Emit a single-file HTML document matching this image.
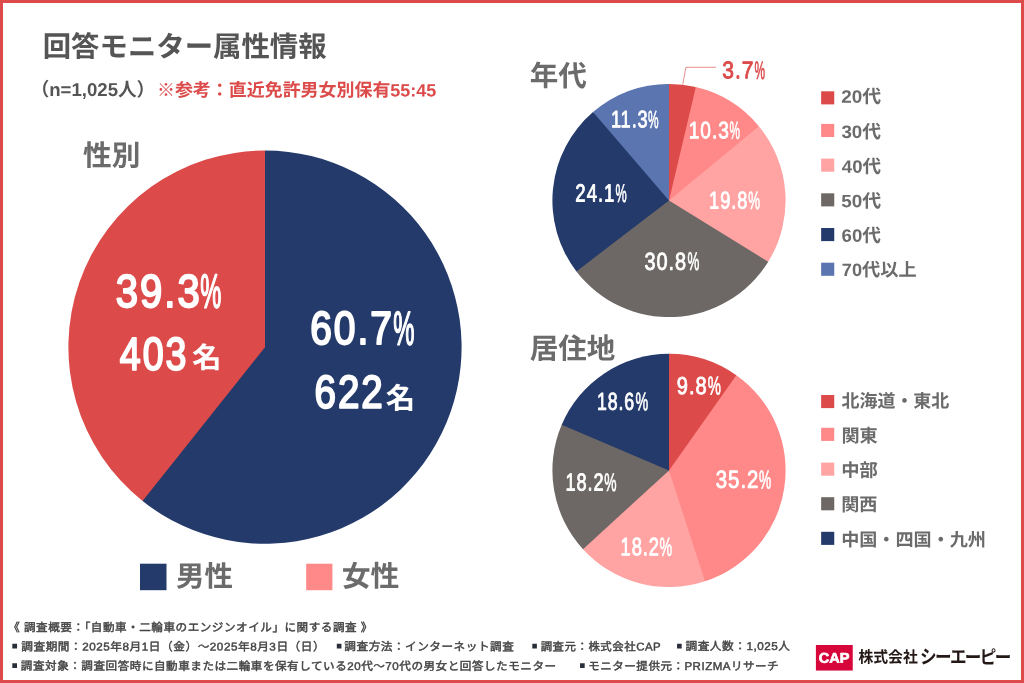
<!DOCTYPE html>
<html lang="ja">
<head>
<meta charset="utf-8">
<title>回答モニター属性情報</title>
<style>
html,body{margin:0;padding:0;background:#fff;}
body{width:1024px;height:683px;overflow:hidden;font-family:"Liberation Sans","Noto Sans CJK JP",sans-serif;}
svg{display:block;}
text{white-space:pre;}
</style>
</head>
<body>
<svg width="1024" height="683" viewBox="0 0 1024 683">
<rect x="0" y="0" width="1024" height="683" fill="#DC4A4A"/>
<rect x="3" y="3" width="1018" height="677" fill="#fff"/>
<path d="M265.00 347.15L265.00 150.55A196.60 196.60 0 1 1 142.56 500.97L143.12 500.26A195.70 195.70 0 0 1 265.00 151.45Z" fill="#233A6B"/>
<path d="M265.00 347.15L142.56 500.97A196.60 196.60 0 0 1 265.00 150.55Z" fill="#DC4A4A"/>
<path d="M669.00 200.50L669.00 83.90A116.60 116.60 0 0 1 695.86 87.04L695.66 87.91A115.70 115.70 0 1 1 669.00 84.80Z" fill="#DC4A4A"/>
<path d="M669.00 200.50L695.86 87.04A116.60 116.60 0 0 1 758.84 126.18L758.15 126.75A115.70 115.70 0 1 1 669.00 84.80Z" fill="#FF8888"/>
<path d="M669.00 200.50L758.84 126.18A116.60 116.60 0 0 1 768.23 261.74L767.46 261.26A115.70 115.70 0 1 1 669.00 84.80Z" fill="#FFA3A3"/>
<path d="M669.00 200.50L768.23 261.74A116.60 116.60 0 0 1 576.42 271.38L577.14 270.84A115.70 115.70 0 0 1 669.00 84.80Z" fill="#6D6865"/>
<path d="M669.00 200.50L576.42 271.38A116.60 116.60 0 0 1 593.00 112.08L593.58 112.76A115.70 115.70 0 0 1 669.00 84.80Z" fill="#233A6B"/>
<path d="M669.00 200.50L593.00 112.08A116.60 116.60 0 0 1 669.00 83.90Z" fill="#5A75B0"/>
<path d="M669.00 470.40L669.00 353.80A116.60 116.60 0 0 1 736.34 375.21L735.83 375.95A115.70 115.70 0 1 1 669.00 354.70Z" fill="#DC4A4A"/>
<path d="M669.00 470.40L736.34 375.21A116.60 116.60 0 0 1 705.03 581.29L704.75 580.44A115.70 115.70 0 1 1 669.00 354.70Z" fill="#FF8888"/>
<path d="M669.00 470.40L705.03 581.29A116.60 116.60 0 0 1 583.01 549.14L583.67 548.54A115.70 115.70 0 0 1 669.00 354.70Z" fill="#FFA3A3"/>
<path d="M669.00 470.40L583.01 549.14A116.60 116.60 0 0 1 561.70 424.77L562.53 425.12A115.70 115.70 0 0 1 669.00 354.70Z" fill="#6D6865"/>
<path d="M669.00 470.40L561.70 424.77A116.60 116.60 0 0 1 669.00 353.80Z" fill="#233A6B"/>
<path d="M682.8 84.4L685.9 67.3H716" fill="none" stroke="#E57272" stroke-width="0.8"/>
<rect x="140" y="563.7" width="26.5" height="26.5" fill="#233A6B"/>
<rect x="306.2" y="563.7" width="26.2" height="26.5" fill="#FF8888"/>
<rect x="821.15" y="91.30" width="13.1" height="13.1" fill="#DC4A4A"/>
<rect x="821.15" y="123.90" width="13.1" height="13.1" fill="#FF8888"/>
<rect x="821.15" y="158.60" width="13.1" height="13.1" fill="#FFA3A3"/>
<rect x="821.15" y="193.30" width="13.1" height="13.1" fill="#6D6865"/>
<rect x="821.15" y="228.00" width="13.1" height="13.1" fill="#233A6B"/>
<rect x="821.15" y="262.70" width="13.1" height="13.1" fill="#5A75B0"/>
<rect x="821.15" y="395.00" width="13.1" height="13.1" fill="#DC4A4A"/>
<rect x="821.15" y="427.80" width="13.1" height="13.1" fill="#FF8888"/>
<rect x="821.15" y="462.60" width="13.1" height="13.1" fill="#FFA3A3"/>
<rect x="821.15" y="497.20" width="13.1" height="13.1" fill="#6D6865"/>
<rect x="821.15" y="531.80" width="13.1" height="13.1" fill="#233A6B"/>
<rect x="815.9" y="645.0" width="36.85" height="25.55" fill="#D7063A"/>
<text transform="translate(42.71 56.38) rotate(0.03)" font-family="'Liberation Sans', 'Noto Sans CJK JP', sans-serif" font-weight="bold" font-size="28.40" fill="#555555" xml:space="preserve">回答モニター属性情報</text>
<text transform="translate(30.67 95.87) rotate(0.03)" font-family="'Liberation Sans', 'Noto Sans CJK JP', sans-serif" font-weight="bold" font-size="18.60" fill="#555555" xml:space="preserve">（n=1,025人）</text>
<text transform="translate(156.96 96.26) rotate(0.03)" font-family="'Liberation Sans', 'Noto Sans CJK JP', sans-serif" font-weight="bold" font-size="17.97" fill="#DC4A4A" xml:space="preserve">※参考：直近免許男女別保有55:45</text>
<text transform="translate(83.10 165.43) rotate(0.03)" font-family="'Liberation Sans', 'Noto Sans CJK JP', sans-serif" font-weight="bold" font-size="28.68" fill="#6B6B6B" xml:space="preserve">性別</text>
<text transform="translate(529.71 85.87) rotate(0.03)" font-family="'Liberation Sans', 'Noto Sans CJK JP', sans-serif" font-weight="bold" font-size="28.56" fill="#6B6B6B" xml:space="preserve">年代</text>
<text transform="translate(529.65 358.51) rotate(0.03)" font-family="'Liberation Sans', 'Noto Sans CJK JP', sans-serif" font-weight="bold" font-size="28.50" fill="#6B6B6B" xml:space="preserve">居住地</text>
<text transform="translate(115.87 306.92) scale(0.8677 1) rotate(0.03)" font-family="'Liberation Sans', sans-serif" font-weight="normal" font-size="46.11" letter-spacing="2.305" fill="#fff" stroke="#fff" stroke-linejoin="round" stroke-width="2.029" xml:space="preserve">39.3</text>
<text transform="translate(200.26 307.86) scale(0.4909 1) rotate(0.03)" font-family="'Liberation Sans', sans-serif" font-weight="normal" font-size="48.31" fill="#fff" stroke="#fff" stroke-linejoin="round" stroke-width="1.701" xml:space="preserve">%</text>
<text transform="translate(119.85 369.75) scale(0.8167 1) rotate(0.03)" font-family="'Liberation Sans', sans-serif" font-weight="normal" font-size="46.08" letter-spacing="2.304" fill="#fff" stroke="#fff" stroke-linejoin="round" stroke-width="2.027" xml:space="preserve">403</text>
<text transform="translate(192.11 367.77) scale(1.0301 1) rotate(0.03)" font-family="'Liberation Sans', 'Noto Sans CJK JP', sans-serif" font-weight="bold" font-size="28.70" fill="#fff" xml:space="preserve">名</text>
<text transform="translate(310.16 343.88) scale(0.8405 1) rotate(0.03)" font-family="'Liberation Sans', sans-serif" font-weight="normal" font-size="46.42" letter-spacing="2.321" fill="#fff" stroke="#fff" stroke-linejoin="round" stroke-width="2.042" xml:space="preserve">60.7</text>
<text transform="translate(393.25 344.70) scale(0.4981 1) rotate(0.03)" font-family="'Liberation Sans', sans-serif" font-weight="normal" font-size="47.92" fill="#fff" stroke="#fff" stroke-linejoin="round" stroke-width="1.687" xml:space="preserve">%</text>
<text transform="translate(314.49 407.68) scale(0.8370 1) rotate(0.03)" font-family="'Liberation Sans', sans-serif" font-weight="normal" font-size="46.17" letter-spacing="2.309" fill="#fff" stroke="#fff" stroke-linejoin="round" stroke-width="2.032" xml:space="preserve">622</text>
<text transform="translate(385.74 408.53) scale(1.0190 1) rotate(0.03)" font-family="'Liberation Sans', 'Noto Sans CJK JP', sans-serif" font-weight="bold" font-size="28.91" fill="#fff" xml:space="preserve">名</text>
<text transform="translate(722.15 78.35) scale(0.8765 1) rotate(0.03)" font-family="'Liberation Sans', sans-serif" font-weight="normal" font-size="24.00" letter-spacing="1.200" fill="#DC4A4A" stroke="#DC4A4A" stroke-linejoin="round" stroke-width="0.864" xml:space="preserve">3.7</text>
<text transform="translate(754.49 79.00) scale(0.4681 1) rotate(0.03)" font-family="'Liberation Sans', sans-serif" font-weight="normal" font-size="25.30" fill="#DC4A4A" stroke="#DC4A4A" stroke-linejoin="round" stroke-width="0.729" xml:space="preserve">%</text>
<text transform="translate(610.93 127.33) scale(0.7689 1) rotate(0.03)" font-family="'Liberation Sans', sans-serif" font-weight="normal" font-size="23.67" letter-spacing="1.184" fill="#fff" stroke="#fff" stroke-linejoin="round" stroke-width="0.852" xml:space="preserve">11.3</text>
<text transform="translate(647.98 127.90) scale(0.4800 1) rotate(0.03)" font-family="'Liberation Sans', sans-serif" font-weight="normal" font-size="24.78" fill="#fff" stroke="#fff" stroke-linejoin="round" stroke-width="0.714" xml:space="preserve">%</text>
<text transform="translate(688.77 138.33) scale(0.8099 1) rotate(0.03)" font-family="'Liberation Sans', sans-serif" font-weight="normal" font-size="23.63" letter-spacing="1.181" fill="#fff" stroke="#fff" stroke-linejoin="round" stroke-width="0.851" xml:space="preserve">10.3</text>
<text transform="translate(729.49 138.75) scale(0.4767 1) rotate(0.03)" font-family="'Liberation Sans', sans-serif" font-weight="normal" font-size="24.76" fill="#fff" stroke="#fff" stroke-linejoin="round" stroke-width="0.713" xml:space="preserve">%</text>
<text transform="translate(575.35 201.46) scale(0.7504 1) rotate(0.03)" font-family="'Liberation Sans', sans-serif" font-weight="normal" font-size="24.82" letter-spacing="1.241" fill="#fff" stroke="#fff" stroke-linejoin="round" stroke-width="0.894" xml:space="preserve">24.1</text>
<text transform="translate(615.57 201.94) scale(0.4908 1) rotate(0.03)" font-family="'Liberation Sans', sans-serif" font-weight="normal" font-size="25.68" fill="#fff" stroke="#fff" stroke-linejoin="round" stroke-width="0.740" xml:space="preserve">%</text>
<text transform="translate(709.11 208.49) scale(0.7521 1) rotate(0.03)" font-family="'Liberation Sans', sans-serif" font-weight="normal" font-size="24.24" letter-spacing="1.212" fill="#fff" stroke="#fff" stroke-linejoin="round" stroke-width="0.873" xml:space="preserve">19.8</text>
<text transform="translate(748.32 208.91) scale(0.5277 1) rotate(0.03)" font-family="'Liberation Sans', sans-serif" font-weight="normal" font-size="25.17" fill="#fff" stroke="#fff" stroke-linejoin="round" stroke-width="0.725" xml:space="preserve">%</text>
<text transform="translate(644.38 269.68) scale(0.8156 1) rotate(0.03)" font-family="'Liberation Sans', sans-serif" font-weight="normal" font-size="24.42" letter-spacing="1.221" fill="#fff" stroke="#fff" stroke-linejoin="round" stroke-width="0.879" xml:space="preserve">30.8</text>
<text transform="translate(687.49 270.07) scale(0.5213 1) rotate(0.03)" font-family="'Liberation Sans', sans-serif" font-weight="normal" font-size="25.64" fill="#fff" stroke="#fff" stroke-linejoin="round" stroke-width="0.738" xml:space="preserve">%</text>
<text transform="translate(676.70 393.88) scale(0.8196 1) rotate(0.03)" font-family="'Liberation Sans', sans-serif" font-weight="normal" font-size="24.54" letter-spacing="1.227" fill="#fff" stroke="#fff" stroke-linejoin="round" stroke-width="0.883" xml:space="preserve">9.8</text>
<text transform="translate(707.69 394.49) scale(0.5715 1) rotate(0.03)" font-family="'Liberation Sans', sans-serif" font-weight="normal" font-size="25.89" fill="#fff" stroke="#fff" stroke-linejoin="round" stroke-width="0.746" xml:space="preserve">%</text>
<text transform="translate(596.99 409.72) scale(0.7259 1) rotate(0.03)" font-family="'Liberation Sans', sans-serif" font-weight="normal" font-size="24.42" letter-spacing="1.221" fill="#fff" stroke="#fff" stroke-linejoin="round" stroke-width="0.879" xml:space="preserve">18.6</text>
<text transform="translate(635.57 410.33) scale(0.5581 1) rotate(0.03)" font-family="'Liberation Sans', sans-serif" font-weight="normal" font-size="25.57" fill="#fff" stroke="#fff" stroke-linejoin="round" stroke-width="0.736" xml:space="preserve">%</text>
<text transform="translate(565.50 490.46) scale(0.7397 1) rotate(0.03)" font-family="'Liberation Sans', sans-serif" font-weight="normal" font-size="24.59" letter-spacing="1.230" fill="#fff" stroke="#fff" stroke-linejoin="round" stroke-width="0.885" xml:space="preserve">18.2</text>
<text transform="translate(604.29 490.94) scale(0.5410 1) rotate(0.03)" font-family="'Liberation Sans', sans-serif" font-weight="normal" font-size="25.59" fill="#fff" stroke="#fff" stroke-linejoin="round" stroke-width="0.737" xml:space="preserve">%</text>
<text transform="translate(715.73 487.84) scale(0.8270 1) rotate(0.03)" font-family="'Liberation Sans', sans-serif" font-weight="normal" font-size="24.62" letter-spacing="1.231" fill="#fff" stroke="#fff" stroke-linejoin="round" stroke-width="0.886" xml:space="preserve">35.2</text>
<text transform="translate(759.08 488.41) scale(0.5307 1) rotate(0.03)" font-family="'Liberation Sans', sans-serif" font-weight="normal" font-size="25.89" fill="#fff" stroke="#fff" stroke-linejoin="round" stroke-width="0.746" xml:space="preserve">%</text>
<text transform="translate(620.55 555.23) scale(0.7254 1) rotate(0.03)" font-family="'Liberation Sans', sans-serif" font-weight="normal" font-size="25.25" letter-spacing="1.263" fill="#fff" stroke="#fff" stroke-linejoin="round" stroke-width="0.909" xml:space="preserve">18.2</text>
<text transform="translate(659.39 555.69) scale(0.5454 1) rotate(0.03)" font-family="'Liberation Sans', sans-serif" font-weight="normal" font-size="26.02" fill="#fff" stroke="#fff" stroke-linejoin="round" stroke-width="0.749" xml:space="preserve">%</text>
<text transform="translate(176.10 586.22) rotate(0.03)" font-family="'Liberation Sans', 'Noto Sans CJK JP', sans-serif" font-weight="bold" font-size="28.50" fill="#6B6B6B" xml:space="preserve">男性</text>
<text transform="translate(341.75 586.33) rotate(0.03)" font-family="'Liberation Sans', 'Noto Sans CJK JP', sans-serif" font-weight="bold" font-size="28.84" fill="#6B6B6B" xml:space="preserve">女性</text>
<text transform="translate(841.33 102.74) scale(1.0479 1) rotate(0.03)" font-family="'Liberation Sans', 'Noto Sans CJK JP', sans-serif" font-weight="bold" font-size="18.00" fill="#6B6B6B" xml:space="preserve">20代</text>
<text transform="translate(841.44 138.03) scale(1.0411 1) rotate(0.03)" font-family="'Liberation Sans', 'Noto Sans CJK JP', sans-serif" font-weight="bold" font-size="18.00" fill="#6B6B6B" xml:space="preserve">30代</text>
<text transform="translate(841.87 172.70) scale(1.0288 1) rotate(0.03)" font-family="'Liberation Sans', 'Noto Sans CJK JP', sans-serif" font-weight="bold" font-size="18.00" fill="#6B6B6B" xml:space="preserve">40代</text>
<text transform="translate(841.23 207.29) scale(1.0502 1) rotate(0.03)" font-family="'Liberation Sans', 'Noto Sans CJK JP', sans-serif" font-weight="bold" font-size="18.00" fill="#6B6B6B" xml:space="preserve">50代</text>
<text transform="translate(841.60 241.68) scale(1.0358 1) rotate(0.03)" font-family="'Liberation Sans', 'Noto Sans CJK JP', sans-serif" font-weight="bold" font-size="18.00" fill="#6B6B6B" xml:space="preserve">60代</text>
<text transform="translate(841.87 275.93) scale(1.0116 1) rotate(0.03)" font-family="'Liberation Sans', 'Noto Sans CJK JP', sans-serif" font-weight="bold" font-size="18.00" fill="#6B6B6B" xml:space="preserve">70代以上</text>
<text transform="translate(841.46 407.24) scale(0.9993 1) rotate(0.03)" font-family="'Liberation Sans', 'Noto Sans CJK JP', sans-serif" font-weight="bold" font-size="18.00" fill="#6B6B6B" xml:space="preserve">北海道・東北</text>
<text transform="translate(841.46 441.95) scale(1.0082 1) rotate(0.03)" font-family="'Liberation Sans', 'Noto Sans CJK JP', sans-serif" font-weight="bold" font-size="18.00" fill="#6B6B6B" xml:space="preserve">関東</text>
<text transform="translate(841.29 476.47) scale(1.0169 1) rotate(0.03)" font-family="'Liberation Sans', 'Noto Sans CJK JP', sans-serif" font-weight="bold" font-size="18.00" fill="#6B6B6B" xml:space="preserve">中部</text>
<text transform="translate(841.24 510.79) scale(1.0070 1) rotate(0.03)" font-family="'Liberation Sans', 'Noto Sans CJK JP', sans-serif" font-weight="bold" font-size="18.00" fill="#6B6B6B" xml:space="preserve">関西</text>
<text transform="translate(841.15 545.95) scale(1.0060 1) rotate(0.03)" font-family="'Liberation Sans', 'Noto Sans CJK JP', sans-serif" font-weight="bold" font-size="18.00" fill="#6B6B6B" xml:space="preserve">中国・四国・九州</text>
<text transform="translate(8.13 631.14) scale(1.0259 1) rotate(0.03)" font-family="'Liberation Sans', 'Noto Sans CJK JP', sans-serif" font-weight="normal" font-size="11.30" letter-spacing="0.509" fill="#444444" stroke="#444444" stroke-linejoin="round" stroke-width="0.452" xml:space="preserve">《 調査概要：「自動車・二輪車のエンジンオイル」に関する調査 》</text>
<text transform="translate(11.70 649.04) scale(1.0117 1) rotate(0.03)" font-family="'Liberation Sans', 'Noto Sans CJK JP', sans-serif" font-weight="bold" font-size="9.66" fill="#2a2d3a" xml:space="preserve">■</text>
<text transform="translate(21.23 650.39) scale(1.0348 1) rotate(0.03)" font-family="'Liberation Sans', 'Noto Sans CJK JP', sans-serif" font-weight="normal" font-size="11.30" letter-spacing="0.509" fill="#444444" stroke="#444444" stroke-linejoin="round" stroke-width="0.452" xml:space="preserve">調査期間：2025年8月1日（金）～2025年8月3日（日）</text>
<text transform="translate(336.22 649.04) scale(0.9844 1) rotate(0.03)" font-family="'Liberation Sans', 'Noto Sans CJK JP', sans-serif" font-weight="bold" font-size="9.66" fill="#2a2d3a" xml:space="preserve">■</text>
<text transform="translate(344.36 650.36) scale(1.0291 1) rotate(0.03)" font-family="'Liberation Sans', 'Noto Sans CJK JP', sans-serif" font-weight="normal" font-size="11.30" letter-spacing="0.509" fill="#444444" stroke="#444444" stroke-linejoin="round" stroke-width="0.452" xml:space="preserve">調査方法：インターネット調査</text>
<text transform="translate(531.70 649.04) scale(0.9731 1) rotate(0.03)" font-family="'Liberation Sans', 'Noto Sans CJK JP', sans-serif" font-weight="bold" font-size="9.66" fill="#2a2d3a" xml:space="preserve">■</text>
<text transform="translate(540.66 650.48) scale(1.0117 1) rotate(0.03)" font-family="'Liberation Sans', 'Noto Sans CJK JP', sans-serif" font-weight="normal" font-size="11.30" letter-spacing="0.509" fill="#444444" stroke="#444444" stroke-linejoin="round" stroke-width="0.452" xml:space="preserve">調査元：株式会社CAP</text>
<text transform="translate(676.46 649.04) scale(0.9863 1) rotate(0.03)" font-family="'Liberation Sans', 'Noto Sans CJK JP', sans-serif" font-weight="bold" font-size="9.66" fill="#2a2d3a" xml:space="preserve">■</text>
<text transform="translate(685.44 650.01) scale(1.0336 1) rotate(0.03)" font-family="'Liberation Sans', 'Noto Sans CJK JP', sans-serif" font-weight="normal" font-size="11.30" letter-spacing="0.509" fill="#444444" stroke="#444444" stroke-linejoin="round" stroke-width="0.452" xml:space="preserve">調査人数：1,025人</text>
<text transform="translate(11.70 668.51) scale(0.9979 1) rotate(0.03)" font-family="'Liberation Sans', 'Noto Sans CJK JP', sans-serif" font-weight="bold" font-size="9.73" fill="#2a2d3a" xml:space="preserve">■</text>
<text transform="translate(20.87 669.83) scale(1.0252 1) rotate(0.03)" font-family="'Liberation Sans', 'Noto Sans CJK JP', sans-serif" font-weight="normal" font-size="11.30" letter-spacing="0.509" fill="#444444" stroke="#444444" stroke-linejoin="round" stroke-width="0.452" xml:space="preserve">調査対象：調査回答時に自動車または二輪車を保有している20代～70代の男女と回答したモニター</text>
<text transform="translate(579.46 668.51) scale(0.9794 1) rotate(0.03)" font-family="'Liberation Sans', 'Noto Sans CJK JP', sans-serif" font-weight="bold" font-size="9.73" fill="#2a2d3a" xml:space="preserve">■</text>
<text transform="translate(588.30 669.97) scale(1.0191 1) rotate(0.03)" font-family="'Liberation Sans', 'Noto Sans CJK JP', sans-serif" font-weight="normal" font-size="11.30" letter-spacing="0.509" fill="#444444" stroke="#444444" stroke-linejoin="round" stroke-width="0.452" xml:space="preserve">モニター提供元：PRIZMAリサーチ</text>
<text transform="translate(818.79 662.71) scale(1.0289 1) rotate(0.03)" font-family="'Liberation Sans', sans-serif" font-weight="bold" font-size="14.11" fill="#fff" stroke="#fff" stroke-linejoin="round" stroke-width="0.706" xml:space="preserve">CAP</text>
<text transform="translate(858.46 662.51) scale(0.9413 1) rotate(0.03)" font-family="'Liberation Sans', 'Noto Sans CJK JP', sans-serif" font-weight="bold" font-size="15.77" fill="#231815" xml:space="preserve">株式会社</text>
<text transform="translate(920.05 663.60) scale(0.8802 1) rotate(0.03)" font-family="'Liberation Sans', 'Noto Sans CJK JP', sans-serif" font-weight="bold" font-size="18.85" letter-spacing="-1.885" fill="#231815" xml:space="preserve">シーエーピー</text>
</svg>
</body>
</html>
